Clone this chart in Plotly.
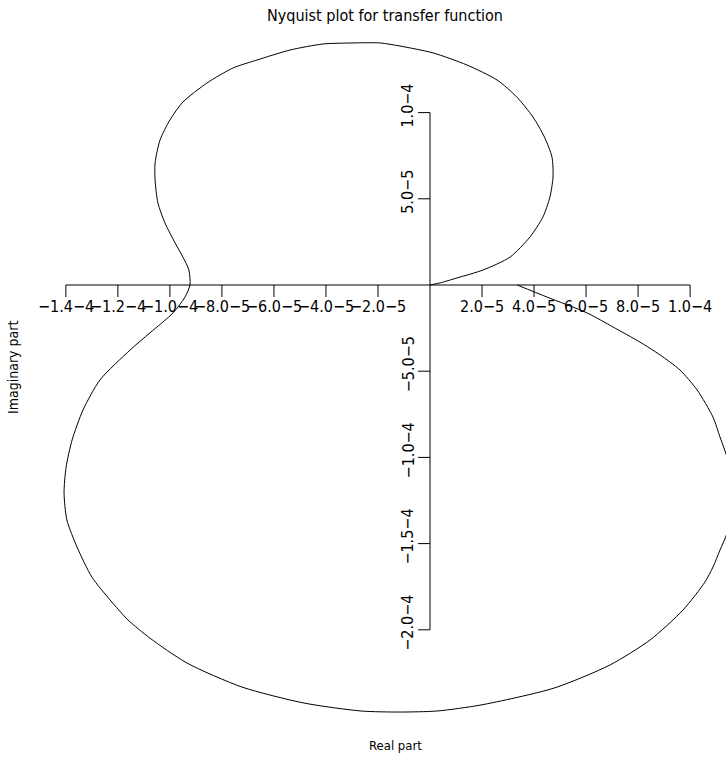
import plotly.graph_objects as go

# Nyquist locus of the transfer function, values in units of 1e-5
SCALE = 1e-5
re_part = [3.35, 4.50, 6.04, 7.04, 8.07, 8.84, 9.61, 10.27, 10.88, 11.15, 11.40, 11.70,
           11.42, 11.15, 10.88, 10.57, 9.73, 8.46, 6.92, 4.77, 1.96, 0.27, -1.15, -2.65,
           -4.84, -7.23, -9.34, -10.77, -11.61, -12.30, -13.00, -13.57, -13.96, -14.07,
           -13.99, -13.76, -13.34, -12.69, -11.53, -10.77, -9.88, -9.42, -9.23, -9.27,
           -9.50, -9.80, -10.19, -10.46, -10.57, -10.57, -10.38, -10.00, -9.50, -8.57,
           -7.57, -6.65, -5.38, -4.11, -2.96, -1.92, -1.15, 0.12, 1.42, 2.58, 3.34, 3.96,
           4.40, 4.69, 4.73, 4.61, 4.34, 3.84, 3.08, 2.04, 1.04, 0.38, 0.0]
im_part = [0.0, -0.70, -1.62, -2.44, -3.31, -4.05, -4.93, -6.09, -7.66, -8.82, -9.90, -12.00,
           -14.39, -15.37, -16.36, -17.23, -18.85, -20.59, -22.04, -23.38, -24.36, -24.71,
           -24.77, -24.71, -24.25, -23.32, -21.93, -20.48, -19.43, -18.27, -16.94, -15.20,
           -13.63, -12.06, -10.56, -8.99, -7.25, -5.51, -3.77, -2.78, -1.62, -0.70, 0.0,
           0.87, 1.62, 2.44, 3.60, 4.76, 6.09, 7.08, 8.41, 9.57, 10.61, 11.72, 12.59, 13.05,
           13.63, 13.98, 14.04, 14.04, 13.86, 13.46, 12.76, 11.89, 10.90, 9.74, 8.58, 7.42,
           6.26, 5.10, 3.94, 2.78, 1.62, 0.87, 0.41, 0.12, 0.0]

x_ticks = [-1.4e-4, -1.2e-4, -1.0e-4, -8.0e-5, -6.0e-5, -4.0e-5, -2.0e-5,
           2.0e-5, 4.0e-5, 6.0e-5, 8.0e-5, 1.0e-4]
x_tick_text = ["−1.4−4", "−1.2−4", "−1.0−4", "−8.0−5", "−6.0−5", "−4.0−5", "−2.0−5",
               "2.0−5", "4.0−5", "6.0−5", "8.0−5", "1.0−4"]
y_ticks = [1.0e-4, 5.0e-5, -5.0e-5, -1.0e-4, -1.5e-4, -2.0e-4]
y_tick_text = ["1.0−4", "5.0−5", "−5.0−5", "−1.0−4", "−1.5−4", "−2.0−4"]

TITLE = "Nyquist plot for transfer function"
X_TITLE = "Real part"
Y_TITLE = "Imaginary part"

FONT = "DejaVu Sans Condensed, DejaVu Sans, sans-serif"
INK = "#000000"

fig = go.Figure()
fig.add_trace(go.Scatter(
    x=[v * SCALE for v in re_part],
    y=[v * SCALE for v in im_part],
    mode="lines",
    line=dict(color=INK, width=1, shape="spline", smoothing=0.7),
    hoverinfo="skip",
    showlegend=False,
))

shapes = []
# axes crossing at the origin
shapes.append(dict(type="line", xref="x", yref="y", x0=x_ticks[0], x1=x_ticks[-1],
                   y0=0, y1=0, line=dict(color=INK, width=1)))
shapes.append(dict(type="line", xref="x", yref="y", x0=0, x1=0,
                   y0=min(y_ticks), y1=max(y_ticks), line=dict(color=INK, width=1)))
for t in x_ticks:
    shapes.append(dict(type="line", xref="x", yref="y", ysizemode="pixel", yanchor=0,
                       x0=t, x1=t, y0=0, y1=-12, line=dict(color=INK, width=1)))
for t in y_ticks:
    shapes.append(dict(type="line", xref="x", yref="y", xsizemode="pixel", xanchor=0,
                       y0=t, y1=t, x0=0, x1=-12, line=dict(color=INK, width=1)))

annotations = []
for t, s in zip(x_ticks, x_tick_text):
    annotations.append(dict(x=t, y=0, xref="x", yref="y", text=s, showarrow=False,
                            xanchor="center", yanchor="middle", yshift=-21,
                            font=dict(family=FONT, size=16, color=INK)))
for t, s in zip(y_ticks, y_tick_text):
    annotations.append(dict(x=0, y=t, xref="x", yref="y", text=s, showarrow=False,
                            textangle=-90, xanchor="center", yanchor="middle",
                            xshift=-22, yshift=7,
                            font=dict(family=FONT, size=16, color=INK)))

annotations.append(dict(x=385, y=15, text=TITLE, showarrow=False,
                        font=dict(family=FONT, size=16, color=INK)))
annotations.append(dict(x=395, y=745, text=X_TITLE, showarrow=False,
                        font=dict(family=FONT, size=13, color=INK)))
annotations.append(dict(x=13, y=368, text=Y_TITLE, showarrow=False, textangle=-90,
                        font=dict(family=FONT, size=14, color=INK)))

# place the page-level labels by pixel position
W, H = 726, 757
for a in annotations[-3:]:
    a["xref"] = "paper"
    a["yref"] = "paper"
    a["x"] = a["x"] / W
    a["y"] = 1 - a["y"] / H
    a["xanchor"] = "center"
    a["yanchor"] = "middle"

fig.update_layout(
    width=W, height=H,
    margin=dict(l=0, r=0, t=0, b=0),
    paper_bgcolor="white", plot_bgcolor="white",
    xaxis=dict(visible=False, range=[-1.6532e-4, 1.1380e-4], fixedrange=True),
    yaxis=dict(visible=False, range=[-2.7378e-4, 1.6531e-4], fixedrange=True),
    shapes=shapes,
    annotations=annotations,
)

fig.write_html("out.html")
